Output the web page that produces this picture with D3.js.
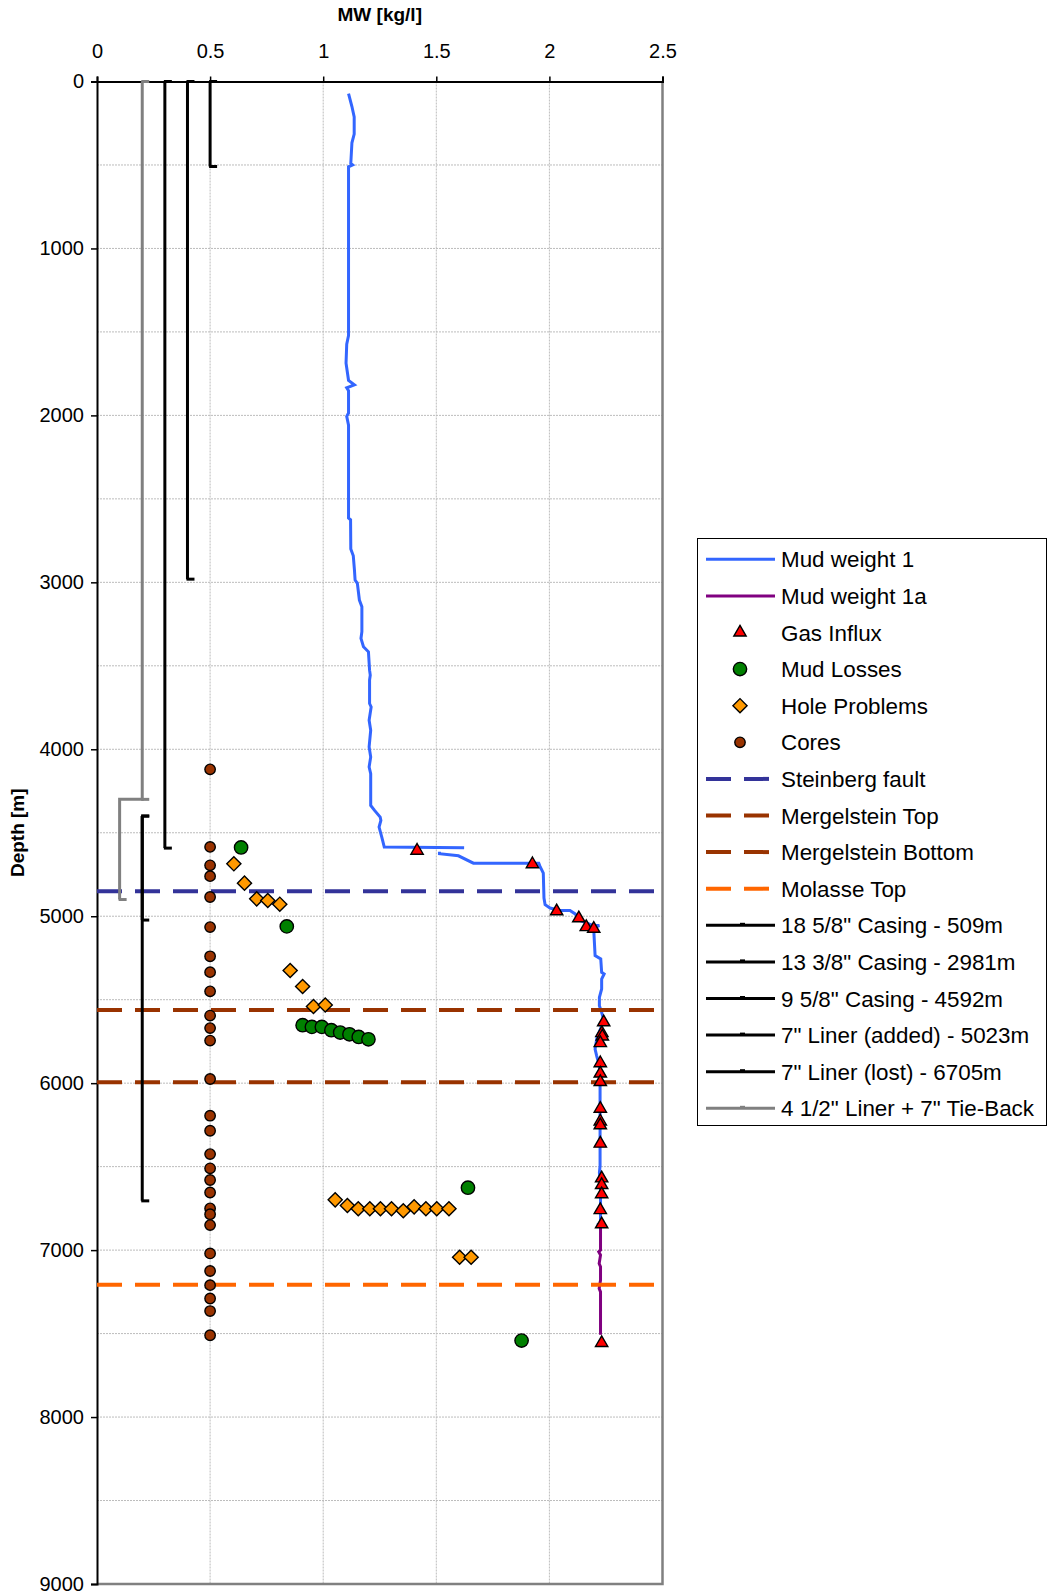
<!DOCTYPE html>
<html>
<head>
    <meta charset="utf-8">
    <title>Mud weight vs depth</title>
    <script type="text/javascript" src="https://cdn.jsdelivr.net/npm/d3@7"></script>
    <style>
        body { margin: 0; background: #fff; }
        svg text { font-family: "Liberation Sans", Arial, sans-serif; fill: #000; }
    </style>
</head>

<body>

<script type="text/javascript">
// mud weight [kg/l] against depth [m]; null breaks the line
var mudWeight1 = [
    [1.112, 72], [1.127, 150], [1.137, 212], [1.137, 315], [1.127, 367], [1.122, 491], [1.130, 500],
    [1.112, 511], [1.112, 1522], [1.104, 1573], [1.101, 1687], [1.112, 1790], [1.138, 1817], [1.104, 1835],
    [1.112, 1852], [1.112, 1986], [1.104, 2006], [1.112, 2058], [1.112, 2615], [1.121, 2625], [1.122, 2800],
    [1.133, 2841], [1.138, 2924], [1.141, 2986], [1.151, 3006], [1.160, 3106], [1.171, 3146], [1.171, 3296],
    [1.167, 3336], [1.178, 3386], [1.200, 3416], [1.205, 3526], [1.208, 3556], [1.205, 3586], [1.205, 3726],
    [1.212, 3746], [1.203, 3826], [1.210, 3886], [1.203, 3986], [1.210, 4046], [1.203, 4106], [1.210, 4146],
    [1.210, 4336], [1.227, 4366], [1.252, 4406], [1.255, 4426], [1.247, 4466], [1.259, 4526], [1.270, 4586],
    [1.623, 4590],
    null,
    [1.514, 4614], [1.514, 4625], [1.598, 4638], [1.664, 4682], [1.953, 4682], [1.958, 4700], [1.973, 4742],
    [1.976, 4891], [1.981, 4931], [2.003, 4951], [2.047, 4966], [2.091, 4966], [2.114, 4986], [2.136, 5026],
    [2.195, 5056], [2.221, 5056], [2.197, 5070], [2.197, 5106], [2.202, 5236], [2.227, 5256], [2.231, 5336],
    [2.242, 5346], [2.231, 5376], [2.231, 5436], [2.221, 5486], [2.221, 5536], [2.231, 5576], [2.239, 5616],
    [2.231, 5656], [2.209, 5736], [2.202, 5796], [2.209, 5836], [2.221, 5896], [2.224, 6016], [2.224, 6496],
    [2.221, 6536], [2.226, 6600], [2.226, 6845], [2.210, 6848], [2.240, 6848]
];

var mudWeight1a = [
    [2.226, 6848], [2.226, 7000], [2.218, 7010], [2.226, 7030], [2.220, 7080], [2.226, 7100],
    [2.226, 7180], [2.220, 7230], [2.226, 7250], [2.226, 7507]
];

var gasInflux = [
    [1.415, 4607], [1.925, 4688], [2.032, 4970], [2.130, 5012], [2.163, 5065], [2.196, 5075],
    [2.240, 5635], [2.232, 5700], [2.234, 5720], [2.225, 5760], [2.225, 5880], [2.225, 5942],
    [2.225, 5993], [2.225, 6153], [2.225, 6229], [2.225, 6252], [2.225, 6362], [2.231, 6570],
    [2.231, 6610], [2.231, 6665], [2.225, 6760], [2.231, 6845], [2.231, 7556]
];

var mudLosses = [
    [0.637, 4588], [0.839, 5061], [0.909, 5653], [0.950, 5663], [0.994, 5663], [1.036, 5683],
    [1.075, 5697], [1.116, 5707], [1.157, 5723], [1.200, 5737], [1.640, 6626], [1.877, 7542]
];

var holeProblems = [
    [0.605, 4686], [0.652, 4802], [0.706, 4896], [0.755, 4906], [0.808, 4928], [0.854, 5325],
    [0.909, 5421], [0.957, 5541], [1.009, 5532], [1.053, 6699], [1.107, 6733], [1.155, 6752],
    [1.206, 6752], [1.253, 6752], [1.302, 6752], [1.354, 6764], [1.402, 6741], [1.454, 6752],
    [1.502, 6752], [1.556, 6752], [1.603, 7043], [1.654, 7043]
];

var coreX = 0.5;
var coreDepths = [4120, 4585, 4695, 4760, 4885, 5065, 5240, 5335, 5450, 5595, 5670, 5745, 5975, 6195,
    6285, 6425, 6510, 6580, 6655, 6750, 6785, 6850, 7020, 7125, 7210, 7290, 7365, 7510];

var formationNames = ["Steinberg fault", "Mergelstein Top", "Mergelstein Bottom", "Molasse Top"];
var formationDepths = [4850, 5562, 5995, 7208];
var formationColors = ["#333399", "#993300", "#993300", "#FF6600"];

var casingNames = ['18 5/8" Casing - 509m', '13 3/8" Casing - 2981m', '9 5/8" Casing - 4592m',
    '7" Liner (added) - 5023m', '7" Liner (lost) - 6705m'];
var casingX = [0.5, 0.4, 0.3, 0.2, 0.2];
var casingTop = [0, 0, 0, 4400, 4400];
var casingShoe = [509, 2981, 4592, 5023, 6705];

var tieBackName = '4 1/2" Liner + 7" Tie-Back';
var tieBack = [[0.2, 0], [0.2, 4300], [0.1, 4300], [0.1, 4900]];

var xTicks = [0, 0.5, 1, 1.5, 2, 2.5];
var yTicks = d3.range(0, 9001, 1000);
var yGridValues = d3.range(500, 9000, 500);
var xGridValues = [0.5, 1, 1.5, 2];

var width = 1048, height = 1595;
var plot = {left: 97, top: 81.5, right: 662.5, bottom: 1584};

var x = d3.scaleLinear().domain([0, 2.5]).range([plot.left, plot.right]);
var y = d3.scaleLinear().domain([0, 9000]).range([plot.top, plot.bottom]);

var svg = d3.select("body").append("svg")
        .attr("width", width)
        .attr("height", height);

// grid
var gridG = svg.append("g").attr("class", "grid");
gridG.selectAll("line.h")
        .data(yGridValues)
        .enter().append("line")
        .attr("x1", plot.left).attr("x2", plot.right)
        .attr("y1", function (d) { return y(d); })
        .attr("y2", function (d) { return y(d); })
        .style("stroke", "#bcbcbc")
        .style("stroke-dasharray", "2,1");
gridG.selectAll("line.v")
        .data(xGridValues)
        .enter().append("line")
        .attr("y1", plot.top).attr("y2", plot.bottom)
        .attr("x1", function (d) { return x(d); })
        .attr("x2", function (d) { return x(d); })
        .style("stroke", "#bcbcbc")
        .style("stroke-dasharray", "2,1");

// gray frame on right and bottom
svg.append("path")
        .attr("d", "M" + plot.right + "," + plot.top + "V" + plot.bottom + "H" + plot.left)
        .style("fill", "none")
        .style("stroke", "#808080")
        .style("stroke-width", 2.5);

// axes
var xAxis = d3.axisTop(x)
        .tickValues(xTicks)
        .tickFormat(function (d) { return String(d); })
        .tickSizeOuter(0)
        .tickSize(5)
        .tickPadding(19);
var xAxisG = svg.append("g")
        .attr("transform", "translate(0," + plot.top + ")")
        .call(xAxis);

var yAxis = d3.axisLeft(y)
        .tickValues(yTicks)
        .tickFormat(d3.format("d"))
        .tickSizeOuter(0)
        .tickSize(6)
        .tickPadding(7);
var yAxisG = svg.append("g")
        .attr("transform", "translate(" + plot.left + ",0)")
        .call(yAxis);

[xAxisG, yAxisG].forEach(function (g) {
    g.select(".domain").style("stroke", "#000").style("stroke-width", 2);
    g.selectAll(".tick line").style("stroke", "#000").style("stroke-width", 1.5);
    g.selectAll(".tick text")
            .style("font-size", "20px")
            .style("font-family", "'Liberation Sans', Arial, sans-serif")
            .attr("fill", "#000");
});

svg.append("text")
        .attr("x", (plot.left + plot.right) / 2)
        .attr("y", 21)
        .attr("text-anchor", "middle")
        .style("font-size", "19px")
        .style("font-weight", "bold")
        .text("MW [kg/l]");

svg.append("text")
        .attr("transform", "translate(24," + ((plot.top + plot.bottom) / 2) + ") rotate(-90)")
        .attr("text-anchor", "middle")
        .style("font-size", "19px")
        .style("font-weight", "bold")
        .text("Depth [m]");

// mud weight lines
var line = d3.line()
        .defined(function (d) { return d !== null; })
        .x(function (d) { return x(d[0]); })
        .y(function (d) { return y(d[1]); });

svg.append("path")
        .datum(mudWeight1)
        .attr("d", line)
        .style("fill", "none")
        .style("stroke", "#3366FF")
        .style("stroke-width", 3);

svg.append("path")
        .datum(mudWeight1a)
        .attr("d", line)
        .style("fill", "none")
        .style("stroke", "#800080")
        .style("stroke-width", 3);

// formation tops
svg.selectAll("line.formation")
        .data(formationDepths)
        .enter().append("line")
        .attr("class", "formation")
        .attr("x1", plot.left).attr("x2", plot.right)
        .attr("y1", function (d) { return y(d); })
        .attr("y2", function (d) { return y(d); })
        .style("stroke", function (d, i) { return formationColors[i]; })
        .style("stroke-width", 4)
        .style("stroke-dasharray", "25,13");

// casings
var tickLen = 7;
casingX.forEach(function (cx, i) {
    var g = svg.append("g").attr("class", "casing");
    g.append("line")
            .attr("x1", x(cx)).attr("x2", x(cx))
            .attr("y1", y(casingTop[i])).attr("y2", y(casingShoe[i]));
    [casingTop[i], casingShoe[i]].forEach(function (d) {
        g.append("line")
                .attr("x1", x(cx) - 1).attr("x2", x(cx) + tickLen)
                .attr("y1", y(d)).attr("y2", y(d));
    });
    g.selectAll("line").style("stroke", "#000").style("stroke-width", 3);
});

var tieG = svg.append("g").attr("class", "tieback");
tieG.append("path")
        .datum(tieBack)
        .attr("d", line)
        .style("fill", "none");
[tieBack[0], tieBack[1], tieBack[3]].forEach(function (p) {
    tieG.append("line")
            .attr("x1", x(p[0]) - 1).attr("x2", x(p[0]) + tickLen)
            .attr("y1", y(p[1])).attr("y2", y(p[1]));
});
tieG.selectAll("path, line").style("stroke", "#808080").style("stroke-width", 3);

// markers
var triangle = d3.symbol().type(d3.symbolTriangle).size(66);
var circleBig = d3.symbol().type(d3.symbolCircle).size(140);
var circleSmall = d3.symbol().type(d3.symbolCircle).size(85);
var diamond = d3.symbol().type(d3.symbolSquare).size(100);

function drawMarkers(data, symbol, fill, rot) {
    svg.append("g").selectAll("path")
            .data(data)
            .enter().append("path")
            .attr("d", symbol)
            .attr("transform", function (d) {
                return "translate(" + x(d[0]) + "," + y(d[1]) + ")" + (rot ? " rotate(45)" : "");
            })
            .style("fill", fill)
            .style("stroke", "#000")
            .style("stroke-width", 1.4);
}

drawMarkers(coreDepths.map(function (d) { return [coreX, d]; }), circleSmall, "#993300");
drawMarkers(holeProblems, diamond, "#FF9900", true);
drawMarkers(mudLosses, circleBig, "#008000");
drawMarkers(gasInflux, triangle, "#FF0000");

// legend
var legendItems = [
    {label: "Mud weight 1", kind: "line", color: "#3366FF"},
    {label: "Mud weight 1a", kind: "line", color: "#800080"},
    {label: "Gas Influx", kind: "marker", symbol: triangle, color: "#FF0000"},
    {label: "Mud Losses", kind: "marker", symbol: circleBig, color: "#008000"},
    {label: "Hole Problems", kind: "marker", symbol: diamond, color: "#FF9900", rot: true},
    {label: "Cores", kind: "marker", symbol: circleSmall, color: "#993300"}
];
formationNames.forEach(function (n, i) {
    legendItems.push({label: n, kind: "dash", color: formationColors[i]});
});
casingNames.forEach(function (n) {
    legendItems.push({label: n, kind: "casing", color: "#000"});
});
legendItems.push({label: tieBackName, kind: "casing", color: "#808080"});

var legendG = svg.append("g").attr("class", "legend");
legendG.append("rect")
        .attr("x", 697.5).attr("y", 538.5)
        .attr("width", 349).attr("height", 587)
        .style("fill", "#fff")
        .style("stroke", "#000")
        .style("stroke-width", 1);

var rowStart = 559.3, rowStep = 36.6, sampleX0 = 706, sampleX1 = 775, textX = 781;

legendItems.forEach(function (item, i) {
    var ry = rowStart + i * rowStep;
    var row = legendG.append("g");
    if (item.kind === "line" || item.kind === "casing") {
        row.append("line")
                .attr("x1", sampleX0).attr("x2", sampleX1)
                .attr("y1", ry).attr("y2", ry)
                .style("stroke", item.color)
                .style("stroke-width", 3);
        if (item.kind === "casing") {
            row.append("rect")
                    .attr("x", 740).attr("y", ry - 2.5)
                    .attr("width", 5).attr("height", 3)
                    .style("fill", item.color);
        }
    } else if (item.kind === "dash") {
        row.append("line")
                .attr("x1", sampleX0).attr("x2", 770)
                .attr("y1", ry).attr("y2", ry)
                .style("stroke", item.color)
                .style("stroke-width", 4)
                .style("stroke-dasharray", "25,13");
    } else {
        row.append("path")
                .attr("d", item.symbol)
                .attr("transform", "translate(740," + ry + ")" + (item.rot ? " rotate(45)" : ""))
                .style("fill", item.color)
                .style("stroke", "#000")
                .style("stroke-width", 1.4);
    }
    row.append("text")
            .attr("x", textX)
            .attr("y", ry)
            .attr("dy", "0.36em")
            .style("font-size", "22.4px")
            .text(item.label);
});
</script>

</body>

</html>
